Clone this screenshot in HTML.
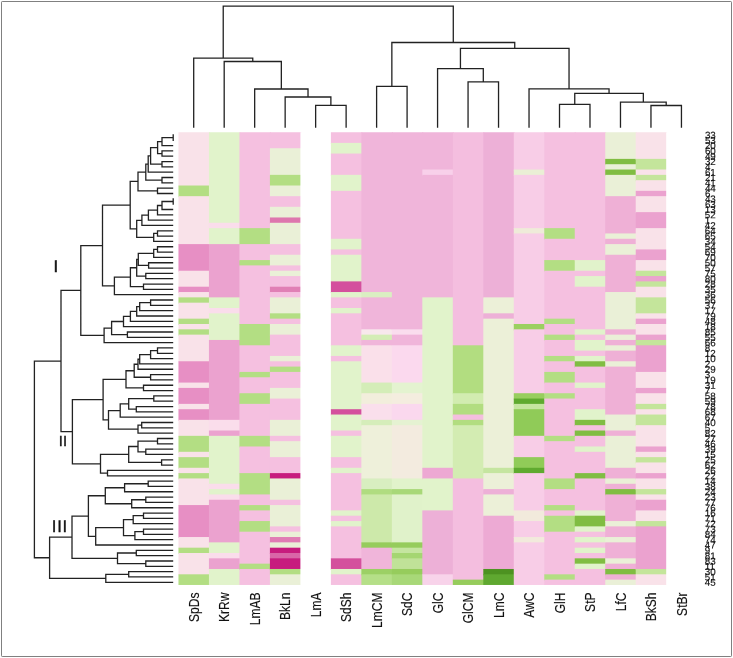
<!DOCTYPE html>
<html lang="en"><head><meta charset="utf-8"><title>Clustered heatmap</title>
<style>html,body{margin:0;padding:0;background:#fff}svg{display:block}text{-webkit-font-smoothing:antialiased}text{font-family:"Liberation Sans",sans-serif;fill:#111}</style></head><body><div style="will-change:transform;width:733px;height:658px">
<svg width="733" height="658" viewBox="0 0 733 658">
<rect x="0" y="0" width="733" height="658" fill="#fff"/>
<rect x="1.5" y="1.5" width="730" height="655" rx="0.7" fill="none" stroke="#808080" stroke-width="1"/>
<g><rect x="178.46" y="132.25" width="31.48" height="54.26" fill="#F9E2E9"/><rect x="178.46" y="185.51" width="31.48" height="11.65" fill="#B3DE83"/><rect x="178.46" y="196.16" width="31.48" height="48.93" fill="#F9E2E9"/><rect x="178.46" y="244.1" width="31.48" height="27.63" fill="#E78FC4"/><rect x="178.46" y="270.73" width="31.48" height="16.98" fill="#F9E2E9"/><rect x="178.46" y="286.7" width="31.48" height="6.33" fill="#E78FC4"/><rect x="178.46" y="292.03" width="31.48" height="6.33" fill="#F9E2E9"/><rect x="178.46" y="297.36" width="31.48" height="6.33" fill="#B3DE83"/><rect x="178.46" y="302.68" width="31.48" height="16.98" fill="#F9E2E9"/><rect x="178.46" y="318.66" width="31.48" height="6.33" fill="#B3DE83"/><rect x="178.46" y="323.99" width="31.48" height="6.33" fill="#F9E2E9"/><rect x="178.46" y="329.31" width="31.48" height="6.33" fill="#B3DE83"/><rect x="178.46" y="334.64" width="31.48" height="27.63" fill="#F9E2E9"/><rect x="178.46" y="361.27" width="31.48" height="22.3" fill="#E78FC4"/><rect x="178.46" y="382.57" width="31.48" height="6.33" fill="#F9E2E9"/><rect x="178.46" y="387.9" width="31.48" height="16.98" fill="#E78FC4"/><rect x="178.46" y="403.88" width="31.48" height="6.33" fill="#F9E2E9"/><rect x="178.46" y="409.2" width="31.48" height="11.65" fill="#E78FC4"/><rect x="178.46" y="419.85" width="31.48" height="16.98" fill="#F9E2E9"/><rect x="178.46" y="435.83" width="31.48" height="16.98" fill="#B3DE83"/><rect x="178.46" y="451.81" width="31.48" height="6.33" fill="#F9E2E9"/><rect x="178.46" y="457.14" width="31.48" height="11.65" fill="#B3DE83"/><rect x="178.46" y="467.79" width="31.48" height="6.33" fill="#F9E2E9"/><rect x="178.46" y="473.11" width="31.48" height="6.33" fill="#B3DE83"/><rect x="178.46" y="478.44" width="31.48" height="27.63" fill="#F9E2E9"/><rect x="178.46" y="505.07" width="31.48" height="32.96" fill="#E78FC4"/><rect x="178.46" y="537.03" width="31.48" height="11.65" fill="#F9E2E9"/><rect x="178.46" y="547.68" width="31.48" height="6.33" fill="#B3DE83"/><rect x="178.46" y="553" width="31.48" height="22.3" fill="#F9E2E9"/><rect x="178.46" y="574.31" width="31.48" height="10.65" fill="#B3DE83"/><rect x="208.94" y="132.25" width="31.48" height="91.54" fill="#E1F3CB"/><rect x="208.94" y="222.79" width="31.48" height="6.33" fill="#FADDEB"/><rect x="208.94" y="228.12" width="31.48" height="16.98" fill="#E1F3CB"/><rect x="208.94" y="244.1" width="31.48" height="54.26" fill="#EBA2CF"/><rect x="208.94" y="297.36" width="31.48" height="11.65" fill="#E1F3CB"/><rect x="208.94" y="308.01" width="31.48" height="6.33" fill="#FADDEB"/><rect x="208.94" y="313.33" width="31.48" height="27.63" fill="#E1F3CB"/><rect x="208.94" y="339.96" width="31.48" height="80.89" fill="#EBA2CF"/><rect x="208.94" y="419.85" width="31.48" height="11.65" fill="#FADDEB"/><rect x="208.94" y="430.51" width="31.48" height="6.33" fill="#EBA2CF"/><rect x="208.94" y="435.83" width="31.48" height="48.93" fill="#E1F3CB"/><rect x="208.94" y="483.77" width="31.48" height="6.33" fill="#FADDEB"/><rect x="208.94" y="489.09" width="31.48" height="6.33" fill="#E1F3CB"/><rect x="208.94" y="494.42" width="31.48" height="6.33" fill="#FADDEB"/><rect x="208.94" y="499.74" width="31.48" height="43.61" fill="#EBA2CF"/><rect x="208.94" y="542.35" width="31.48" height="11.65" fill="#E1F3CB"/><rect x="208.94" y="553" width="31.48" height="6.33" fill="#FADDEB"/><rect x="208.94" y="558.33" width="31.48" height="11.65" fill="#EBA2CF"/><rect x="208.94" y="568.98" width="31.48" height="15.98" fill="#E1F3CB"/><rect x="239.43" y="132.25" width="31.48" height="96.87" fill="#F5C0E0"/><rect x="239.43" y="228.12" width="31.48" height="16.98" fill="#B3DE83"/><rect x="239.43" y="244.1" width="31.48" height="16.98" fill="#F5C0E0"/><rect x="239.43" y="260.07" width="31.48" height="6.33" fill="#B3DE83"/><rect x="239.43" y="265.4" width="31.48" height="59.59" fill="#F5C0E0"/><rect x="239.43" y="323.99" width="31.48" height="22.3" fill="#B3DE83"/><rect x="239.43" y="345.29" width="31.48" height="27.63" fill="#F5C0E0"/><rect x="239.43" y="371.92" width="31.48" height="6.33" fill="#B3DE83"/><rect x="239.43" y="377.25" width="31.48" height="16.98" fill="#F5C0E0"/><rect x="239.43" y="393.22" width="31.48" height="11.65" fill="#B3DE83"/><rect x="239.43" y="403.88" width="31.48" height="32.96" fill="#F5C0E0"/><rect x="239.43" y="435.83" width="31.48" height="11.65" fill="#B3DE83"/><rect x="239.43" y="446.48" width="31.48" height="27.63" fill="#F5C0E0"/><rect x="239.43" y="473.11" width="31.48" height="22.3" fill="#B3DE83"/><rect x="239.43" y="494.42" width="31.48" height="11.65" fill="#F5C0E0"/><rect x="239.43" y="505.07" width="31.48" height="6.33" fill="#B3DE83"/><rect x="239.43" y="510.4" width="31.48" height="11.65" fill="#F5C0E0"/><rect x="239.43" y="521.05" width="31.48" height="11.65" fill="#B3DE83"/><rect x="239.43" y="531.7" width="31.48" height="32.96" fill="#F5C0E0"/><rect x="239.43" y="563.66" width="31.48" height="6.33" fill="#B3DE83"/><rect x="239.43" y="568.98" width="31.48" height="15.98" fill="#F5C0E0"/><rect x="269.91" y="132.25" width="31.48" height="16.98" fill="#F5C0E0"/><rect x="269.91" y="148.23" width="31.48" height="27.63" fill="#EAF0D7"/><rect x="269.91" y="174.86" width="31.48" height="11.65" fill="#B3DE83"/><rect x="269.91" y="185.51" width="31.48" height="11.65" fill="#EAF0D7"/><rect x="269.91" y="196.16" width="31.48" height="11.65" fill="#F5C0E0"/><rect x="269.91" y="206.81" width="31.48" height="11.65" fill="#EAF0D7"/><rect x="269.91" y="217.47" width="31.48" height="6.33" fill="#DE77AE"/><rect x="269.91" y="222.79" width="31.48" height="22.3" fill="#EAF0D7"/><rect x="269.91" y="244.1" width="31.48" height="11.65" fill="#F5C0E0"/><rect x="269.91" y="254.75" width="31.48" height="11.65" fill="#EAF0D7"/><rect x="269.91" y="265.4" width="31.48" height="6.33" fill="#F5C0E0"/><rect x="269.91" y="270.73" width="31.48" height="6.33" fill="#EAF0D7"/><rect x="269.91" y="276.05" width="31.48" height="11.65" fill="#F5C0E0"/><rect x="269.91" y="286.7" width="31.48" height="6.33" fill="#E080B5"/><rect x="269.91" y="292.03" width="31.48" height="6.33" fill="#F5C0E0"/><rect x="269.91" y="297.36" width="31.48" height="16.98" fill="#EAF0D7"/><rect x="269.91" y="313.33" width="31.48" height="6.33" fill="#B3DE83"/><rect x="269.91" y="318.66" width="31.48" height="6.33" fill="#F5C0E0"/><rect x="269.91" y="323.99" width="31.48" height="11.65" fill="#EAF0D7"/><rect x="269.91" y="334.64" width="31.48" height="22.3" fill="#F5C0E0"/><rect x="269.91" y="355.94" width="31.48" height="6.33" fill="#EAF0D7"/><rect x="269.91" y="361.27" width="31.48" height="6.33" fill="#F5C0E0"/><rect x="269.91" y="366.59" width="31.48" height="6.33" fill="#B3DE83"/><rect x="269.91" y="371.92" width="31.48" height="16.98" fill="#F5C0E0"/><rect x="269.91" y="387.9" width="31.48" height="11.65" fill="#EAF0D7"/><rect x="269.91" y="398.55" width="31.48" height="22.3" fill="#F5C0E0"/><rect x="269.91" y="419.85" width="31.48" height="16.98" fill="#EAF0D7"/><rect x="269.91" y="435.83" width="31.48" height="6.33" fill="#F5C0E0"/><rect x="269.91" y="441.16" width="31.48" height="16.98" fill="#EAF0D7"/><rect x="269.91" y="457.14" width="31.48" height="16.98" fill="#F5C0E0"/><rect x="269.91" y="473.11" width="31.48" height="6.33" fill="#C71C7E"/><rect x="269.91" y="478.44" width="31.48" height="22.3" fill="#EAF0D7"/><rect x="269.91" y="499.74" width="31.48" height="6.33" fill="#F5C0E0"/><rect x="269.91" y="505.07" width="31.48" height="22.3" fill="#EAF0D7"/><rect x="269.91" y="526.37" width="31.48" height="6.33" fill="#F5C0E0"/><rect x="269.91" y="531.7" width="31.48" height="6.33" fill="#EAF0D7"/><rect x="269.91" y="537.03" width="31.48" height="6.33" fill="#E07DB4"/><rect x="269.91" y="542.35" width="31.48" height="6.33" fill="#EAF0D7"/><rect x="269.91" y="547.68" width="31.48" height="6.33" fill="#C71C7E"/><rect x="269.91" y="553" width="31.48" height="6.33" fill="#D966A8"/><rect x="269.91" y="558.33" width="31.48" height="11.65" fill="#C71C7E"/><rect x="269.91" y="568.98" width="31.48" height="6.33" fill="#B3DE83"/><rect x="269.91" y="574.31" width="31.48" height="10.65" fill="#EAF0D7"/><rect x="300.4" y="132.25" width="31.48" height="452.71" fill="#FFFFFF"/><rect x="330.88" y="132.25" width="31.48" height="11.65" fill="#F5C0E0"/><rect x="330.88" y="142.9" width="31.48" height="11.65" fill="#E1F3CB"/><rect x="330.88" y="153.55" width="31.48" height="22.3" fill="#F5C0E0"/><rect x="330.88" y="174.86" width="31.48" height="16.98" fill="#E1F3CB"/><rect x="330.88" y="190.84" width="31.48" height="48.93" fill="#F5C0E0"/><rect x="330.88" y="238.77" width="31.48" height="11.65" fill="#E1F3CB"/><rect x="330.88" y="249.42" width="31.48" height="6.33" fill="#F5C0E0"/><rect x="330.88" y="254.75" width="31.48" height="27.63" fill="#E1F3CB"/><rect x="330.88" y="281.38" width="31.48" height="11.65" fill="#D4509D"/><rect x="330.88" y="292.03" width="31.48" height="6.33" fill="#E1F3CB"/><rect x="330.88" y="297.36" width="31.48" height="11.65" fill="#F5C0E0"/><rect x="330.88" y="308.01" width="31.48" height="6.33" fill="#E1F3CB"/><rect x="330.88" y="313.33" width="31.48" height="32.96" fill="#F5C0E0"/><rect x="330.88" y="345.29" width="31.48" height="11.65" fill="#E1F3CB"/><rect x="330.88" y="355.94" width="31.48" height="6.33" fill="#F5C0E0"/><rect x="330.88" y="361.27" width="31.48" height="48.93" fill="#E1F3CB"/><rect x="330.88" y="409.2" width="31.48" height="6.33" fill="#D4509D"/><rect x="330.88" y="414.53" width="31.48" height="16.98" fill="#E1F3CB"/><rect x="330.88" y="430.51" width="31.48" height="6.33" fill="#F5C0E0"/><rect x="330.88" y="435.83" width="31.48" height="22.3" fill="#E1F3CB"/><rect x="330.88" y="457.14" width="31.48" height="11.65" fill="#F5C0E0"/><rect x="330.88" y="467.79" width="31.48" height="6.33" fill="#E1F3CB"/><rect x="330.88" y="473.11" width="31.48" height="38.28" fill="#F5C0E0"/><rect x="330.88" y="510.4" width="31.48" height="6.33" fill="#E1F3CB"/><rect x="330.88" y="515.72" width="31.48" height="6.33" fill="#F5C0E0"/><rect x="330.88" y="521.05" width="31.48" height="6.33" fill="#E1F3CB"/><rect x="330.88" y="526.37" width="31.48" height="32.96" fill="#F5C0E0"/><rect x="330.88" y="558.33" width="31.48" height="11.65" fill="#D4509D"/><rect x="330.88" y="568.98" width="31.48" height="6.33" fill="#E1F3CB"/><rect x="330.88" y="574.31" width="31.48" height="10.65" fill="#F5C0E0"/><rect x="361.36" y="132.25" width="31.48" height="160.78" fill="#F0B5DA"/><rect x="361.36" y="292.03" width="31.48" height="6.33" fill="#DAEFC2"/><rect x="361.36" y="297.36" width="31.48" height="32.96" fill="#F0B5DA"/><rect x="361.36" y="329.31" width="31.48" height="6.33" fill="#F8E8EC"/><rect x="361.36" y="334.64" width="31.48" height="6.33" fill="#D4EDB5"/><rect x="361.36" y="339.96" width="31.48" height="6.33" fill="#F0B5DA"/><rect x="361.36" y="345.29" width="31.48" height="38.28" fill="#FAE0EA"/><rect x="361.36" y="382.57" width="31.48" height="11.65" fill="#D4EDB8"/><rect x="361.36" y="393.22" width="31.48" height="11.65" fill="#F2EEDC"/><rect x="361.36" y="403.88" width="31.48" height="16.98" fill="#FADFEC"/><rect x="361.36" y="419.85" width="31.48" height="6.33" fill="#D5EDBA"/><rect x="361.36" y="425.18" width="31.48" height="54.26" fill="#EEF0DA"/><rect x="361.36" y="478.44" width="31.48" height="11.65" fill="#D8EEC0"/><rect x="361.36" y="489.09" width="31.48" height="6.33" fill="#B0DC80"/><rect x="361.36" y="494.42" width="31.48" height="48.93" fill="#CDE9AA"/><rect x="361.36" y="542.35" width="31.48" height="6.33" fill="#96CC5C"/><rect x="361.36" y="547.68" width="31.48" height="22.3" fill="#F0B5DA"/><rect x="361.36" y="568.98" width="31.48" height="6.33" fill="#9CD065"/><rect x="361.36" y="574.31" width="31.48" height="10.65" fill="#B5DF88"/><rect x="391.85" y="132.25" width="31.48" height="198.06" fill="#F0B5DA"/><rect x="391.85" y="329.31" width="31.48" height="6.33" fill="#FADDEE"/><rect x="391.85" y="334.64" width="31.48" height="11.65" fill="#F0B5DA"/><rect x="391.85" y="345.29" width="31.48" height="38.28" fill="#FBD9EE"/><rect x="391.85" y="382.57" width="31.48" height="11.65" fill="#E4F3D0"/><rect x="391.85" y="393.22" width="31.48" height="11.65" fill="#F4EDDF"/><rect x="391.85" y="403.88" width="31.48" height="16.98" fill="#FAD8EE"/><rect x="391.85" y="419.85" width="31.48" height="6.33" fill="#E5F2D2"/><rect x="391.85" y="425.18" width="31.48" height="54.26" fill="#F3EBDF"/><rect x="391.85" y="478.44" width="31.48" height="11.65" fill="#E1F3CB"/><rect x="391.85" y="489.09" width="31.48" height="6.33" fill="#A8D878"/><rect x="391.85" y="494.42" width="31.48" height="48.93" fill="#E0F2CA"/><rect x="391.85" y="542.35" width="31.48" height="6.33" fill="#96CC5C"/><rect x="391.85" y="547.68" width="31.48" height="6.33" fill="#C5E5A0"/><rect x="391.85" y="553" width="31.48" height="6.33" fill="#A5D672"/><rect x="391.85" y="558.33" width="31.48" height="11.65" fill="#C0E298"/><rect x="391.85" y="568.98" width="31.48" height="6.33" fill="#96CC5C"/><rect x="391.85" y="574.31" width="31.48" height="10.65" fill="#A8D878"/><rect x="422.33" y="132.25" width="31.48" height="38.28" fill="#F0B5DA"/><rect x="422.33" y="169.53" width="31.48" height="6.33" fill="#F8D0EA"/><rect x="422.33" y="174.86" width="31.48" height="123.5" fill="#F0B5DA"/><rect x="422.33" y="297.36" width="31.48" height="171.43" fill="#E1F3CB"/><rect x="422.33" y="467.79" width="31.48" height="11.65" fill="#EDA8D3"/><rect x="422.33" y="478.44" width="31.48" height="32.96" fill="#E1F3CB"/><rect x="422.33" y="510.4" width="31.48" height="64.91" fill="#EDB0D7"/><rect x="422.33" y="574.31" width="31.48" height="10.65" fill="#F8D3EA"/><rect x="452.82" y="132.25" width="31.48" height="214.04" fill="#F4BEDF"/><rect x="452.82" y="345.29" width="31.48" height="48.93" fill="#B2DD80"/><rect x="452.82" y="393.22" width="31.48" height="11.65" fill="#D2ECB0"/><rect x="452.82" y="403.88" width="31.48" height="11.65" fill="#B2DD80"/><rect x="452.82" y="414.53" width="31.48" height="6.33" fill="#F4BEDF"/><rect x="452.82" y="419.85" width="31.48" height="6.33" fill="#B2DD80"/><rect x="452.82" y="425.18" width="31.48" height="54.26" fill="#D3ECB2"/><rect x="452.82" y="478.44" width="31.48" height="102.19" fill="#F4BEDF"/><rect x="452.82" y="579.63" width="31.48" height="5.33" fill="#96CC5C"/><rect x="483.3" y="132.25" width="31.48" height="166.11" fill="#EDB0D7"/><rect x="483.3" y="297.36" width="31.48" height="16.98" fill="#ECF0D8"/><rect x="483.3" y="313.33" width="31.48" height="6.33" fill="#EDB0D7"/><rect x="483.3" y="318.66" width="31.48" height="150.13" fill="#ECF0D8"/><rect x="483.3" y="467.79" width="31.48" height="6.33" fill="#C5E5A0"/><rect x="483.3" y="473.11" width="31.48" height="16.98" fill="#ECF0D8"/><rect x="483.3" y="489.09" width="31.48" height="6.33" fill="#EDB0D7"/><rect x="483.3" y="494.42" width="31.48" height="22.3" fill="#ECF0D8"/><rect x="483.3" y="515.72" width="31.48" height="54.26" fill="#EDAAD4"/><rect x="483.3" y="568.98" width="31.48" height="6.33" fill="#4D9221"/><rect x="483.3" y="574.31" width="31.48" height="10.65" fill="#5FA830"/><rect x="513.78" y="132.25" width="31.48" height="38.28" fill="#F8CDE7"/><rect x="513.78" y="169.53" width="31.48" height="6.33" fill="#EAEFD5"/><rect x="513.78" y="174.86" width="31.48" height="54.26" fill="#F8CDE7"/><rect x="513.78" y="228.12" width="31.48" height="6.33" fill="#EFEBD9"/><rect x="513.78" y="233.44" width="31.48" height="91.54" fill="#F8CDE7"/><rect x="513.78" y="323.99" width="31.48" height="6.33" fill="#9BD060"/><rect x="513.78" y="329.31" width="31.48" height="64.91" fill="#F8CDE7"/><rect x="513.78" y="393.22" width="31.48" height="6.33" fill="#98CE5E"/><rect x="513.78" y="398.55" width="31.48" height="6.33" fill="#5FAA2F"/><rect x="513.78" y="403.88" width="31.48" height="6.33" fill="#C5E5A0"/><rect x="513.78" y="409.2" width="31.48" height="27.63" fill="#90CB58"/><rect x="513.78" y="435.83" width="31.48" height="22.3" fill="#F8CDE7"/><rect x="513.78" y="457.14" width="31.48" height="11.65" fill="#90CB58"/><rect x="513.78" y="467.79" width="31.48" height="6.33" fill="#5FAA2F"/><rect x="513.78" y="473.11" width="31.48" height="38.28" fill="#F8CDE7"/><rect x="513.78" y="510.4" width="31.48" height="11.65" fill="#F2EADC"/><rect x="513.78" y="521.05" width="31.48" height="16.98" fill="#F8CDE7"/><rect x="513.78" y="537.03" width="31.48" height="6.33" fill="#F2EADC"/><rect x="513.78" y="542.35" width="31.48" height="42.61" fill="#F8CDE7"/><rect x="544.27" y="132.25" width="31.48" height="96.87" fill="#F5C0E0"/><rect x="544.27" y="228.12" width="31.48" height="11.65" fill="#B3DE83"/><rect x="544.27" y="238.77" width="31.48" height="22.3" fill="#F5C0E0"/><rect x="544.27" y="260.07" width="31.48" height="11.65" fill="#B3DE83"/><rect x="544.27" y="270.73" width="31.48" height="48.93" fill="#F5C0E0"/><rect x="544.27" y="318.66" width="31.48" height="6.33" fill="#B3DE83"/><rect x="544.27" y="323.99" width="31.48" height="11.65" fill="#F5C0E0"/><rect x="544.27" y="334.64" width="31.48" height="6.33" fill="#B3DE83"/><rect x="544.27" y="339.96" width="31.48" height="16.98" fill="#F5C0E0"/><rect x="544.27" y="355.94" width="31.48" height="6.33" fill="#B3DE83"/><rect x="544.27" y="361.27" width="31.48" height="11.65" fill="#F5C0E0"/><rect x="544.27" y="371.92" width="31.48" height="11.65" fill="#B3DE83"/><rect x="544.27" y="382.57" width="31.48" height="11.65" fill="#F5C0E0"/><rect x="544.27" y="393.22" width="31.48" height="6.33" fill="#B3DE83"/><rect x="544.27" y="398.55" width="31.48" height="38.28" fill="#F5C0E0"/><rect x="544.27" y="435.83" width="31.48" height="6.33" fill="#B3DE83"/><rect x="544.27" y="441.16" width="31.48" height="38.28" fill="#F5C0E0"/><rect x="544.27" y="478.44" width="31.48" height="11.65" fill="#B3DE83"/><rect x="544.27" y="489.09" width="31.48" height="16.98" fill="#F5C0E0"/><rect x="544.27" y="505.07" width="31.48" height="6.33" fill="#B3DE83"/><rect x="544.27" y="510.4" width="31.48" height="6.33" fill="#F5C0E0"/><rect x="544.27" y="515.72" width="31.48" height="16.98" fill="#B3DE83"/><rect x="544.27" y="531.7" width="31.48" height="43.61" fill="#F5C0E0"/><rect x="544.27" y="574.31" width="31.48" height="6.33" fill="#B3DE83"/><rect x="544.27" y="579.63" width="31.48" height="5.33" fill="#F5C0E0"/><rect x="574.75" y="132.25" width="31.48" height="128.82" fill="#F5C0E0"/><rect x="574.75" y="260.07" width="31.48" height="11.65" fill="#E1F3CB"/><rect x="574.75" y="270.73" width="31.48" height="6.33" fill="#F5C0E0"/><rect x="574.75" y="276.05" width="31.48" height="11.65" fill="#E1F3CB"/><rect x="574.75" y="286.7" width="31.48" height="43.61" fill="#F5C0E0"/><rect x="574.75" y="329.31" width="31.48" height="6.33" fill="#E1F3CB"/><rect x="574.75" y="334.64" width="31.48" height="6.33" fill="#F5C0E0"/><rect x="574.75" y="339.96" width="31.48" height="11.65" fill="#E1F3CB"/><rect x="574.75" y="350.62" width="31.48" height="6.33" fill="#F5C0E0"/><rect x="574.75" y="355.94" width="31.48" height="6.33" fill="#E1F3CB"/><rect x="574.75" y="361.27" width="31.48" height="6.33" fill="#80BD42"/><rect x="574.75" y="366.59" width="31.48" height="16.98" fill="#F5C0E0"/><rect x="574.75" y="382.57" width="31.48" height="6.33" fill="#E1F3CB"/><rect x="574.75" y="387.9" width="31.48" height="22.3" fill="#F5C0E0"/><rect x="574.75" y="409.2" width="31.48" height="11.65" fill="#E1F3CB"/><rect x="574.75" y="419.85" width="31.48" height="6.33" fill="#80BD42"/><rect x="574.75" y="425.18" width="31.48" height="6.33" fill="#F5C0E0"/><rect x="574.75" y="430.51" width="31.48" height="6.33" fill="#80BD42"/><rect x="574.75" y="435.83" width="31.48" height="11.65" fill="#F5C0E0"/><rect x="574.75" y="446.48" width="31.48" height="6.33" fill="#E1F3CB"/><rect x="574.75" y="451.81" width="31.48" height="22.3" fill="#F5C0E0"/><rect x="574.75" y="473.11" width="31.48" height="6.33" fill="#80BD42"/><rect x="574.75" y="478.44" width="31.48" height="32.96" fill="#F5C0E0"/><rect x="574.75" y="510.4" width="31.48" height="6.33" fill="#E1F3CB"/><rect x="574.75" y="515.72" width="31.48" height="11.65" fill="#80BD42"/><rect x="574.75" y="526.37" width="31.48" height="6.33" fill="#E1F3CB"/><rect x="574.75" y="531.7" width="31.48" height="6.33" fill="#F5C0E0"/><rect x="574.75" y="537.03" width="31.48" height="6.33" fill="#E1F3CB"/><rect x="574.75" y="542.35" width="31.48" height="6.33" fill="#F5C0E0"/><rect x="574.75" y="547.68" width="31.48" height="6.33" fill="#E1F3CB"/><rect x="574.75" y="553" width="31.48" height="6.33" fill="#F5C0E0"/><rect x="574.75" y="558.33" width="31.48" height="6.33" fill="#80BD42"/><rect x="574.75" y="563.66" width="31.48" height="6.33" fill="#E1F3CB"/><rect x="574.75" y="568.98" width="31.48" height="15.98" fill="#F5C0E0"/><rect x="605.24" y="132.25" width="31.48" height="27.63" fill="#EAF0D7"/><rect x="605.24" y="158.88" width="31.48" height="6.33" fill="#80BD42"/><rect x="605.24" y="164.21" width="31.48" height="6.33" fill="#EAF0D7"/><rect x="605.24" y="169.53" width="31.48" height="6.33" fill="#80BD42"/><rect x="605.24" y="174.86" width="31.48" height="22.3" fill="#EAF0D7"/><rect x="605.24" y="196.16" width="31.48" height="38.28" fill="#EFB0D6"/><rect x="605.24" y="233.44" width="31.48" height="6.33" fill="#EAF0D7"/><rect x="605.24" y="238.77" width="31.48" height="6.33" fill="#EFB0D6"/><rect x="605.24" y="244.1" width="31.48" height="11.65" fill="#EAF0D7"/><rect x="605.24" y="254.75" width="31.48" height="38.28" fill="#EFB0D6"/><rect x="605.24" y="292.03" width="31.48" height="38.28" fill="#EAF0D7"/><rect x="605.24" y="329.31" width="31.48" height="6.33" fill="#EFB0D6"/><rect x="605.24" y="334.64" width="31.48" height="6.33" fill="#EAF0D7"/><rect x="605.24" y="339.96" width="31.48" height="6.33" fill="#EFB0D6"/><rect x="605.24" y="345.29" width="31.48" height="6.33" fill="#EAF0D7"/><rect x="605.24" y="350.62" width="31.48" height="11.65" fill="#EFB0D6"/><rect x="605.24" y="361.27" width="31.48" height="6.33" fill="#EAF0D7"/><rect x="605.24" y="366.59" width="31.48" height="48.93" fill="#EFB0D6"/><rect x="605.24" y="414.53" width="31.48" height="16.98" fill="#EAF0D7"/><rect x="605.24" y="430.51" width="31.48" height="6.33" fill="#EFB0D6"/><rect x="605.24" y="435.83" width="31.48" height="32.96" fill="#EAF0D7"/><rect x="605.24" y="467.79" width="31.48" height="11.65" fill="#EFB0D6"/><rect x="605.24" y="478.44" width="31.48" height="6.33" fill="#EAF0D7"/><rect x="605.24" y="483.77" width="31.48" height="6.33" fill="#EFB0D6"/><rect x="605.24" y="489.09" width="31.48" height="6.33" fill="#80BD42"/><rect x="605.24" y="494.42" width="31.48" height="27.63" fill="#EFB0D6"/><rect x="605.24" y="521.05" width="31.48" height="6.33" fill="#EAF0D7"/><rect x="605.24" y="526.37" width="31.48" height="11.65" fill="#EFB0D6"/><rect x="605.24" y="537.03" width="31.48" height="6.33" fill="#EAF0D7"/><rect x="605.24" y="542.35" width="31.48" height="16.98" fill="#EFB0D6"/><rect x="605.24" y="558.33" width="31.48" height="6.33" fill="#EAF0D7"/><rect x="605.24" y="563.66" width="31.48" height="6.33" fill="#EFB0D6"/><rect x="605.24" y="568.98" width="31.48" height="6.33" fill="#80BD42"/><rect x="605.24" y="574.31" width="31.48" height="6.33" fill="#EFB0D6"/><rect x="605.24" y="579.63" width="31.48" height="5.33" fill="#EAF0D7"/><rect x="635.72" y="132.25" width="31.48" height="27.63" fill="#F9E2E9"/><rect x="635.72" y="158.88" width="31.48" height="11.65" fill="#C4E59B"/><rect x="635.72" y="169.53" width="31.48" height="6.33" fill="#F9E2E9"/><rect x="635.72" y="174.86" width="31.48" height="6.33" fill="#C4E59B"/><rect x="635.72" y="180.18" width="31.48" height="11.65" fill="#F9E2E9"/><rect x="635.72" y="190.84" width="31.48" height="6.33" fill="#EBA2CF"/><rect x="635.72" y="196.16" width="31.48" height="16.98" fill="#F9E2E9"/><rect x="635.72" y="212.14" width="31.48" height="16.98" fill="#EBA2CF"/><rect x="635.72" y="228.12" width="31.48" height="22.3" fill="#F9E2E9"/><rect x="635.72" y="249.42" width="31.48" height="11.65" fill="#EBA2CF"/><rect x="635.72" y="260.07" width="31.48" height="11.65" fill="#F9E2E9"/><rect x="635.72" y="270.73" width="31.48" height="6.33" fill="#C4E59B"/><rect x="635.72" y="276.05" width="31.48" height="6.33" fill="#EBA2CF"/><rect x="635.72" y="281.38" width="31.48" height="6.33" fill="#C4E59B"/><rect x="635.72" y="286.7" width="31.48" height="11.65" fill="#F9E2E9"/><rect x="635.72" y="297.36" width="31.48" height="16.98" fill="#C4E59B"/><rect x="635.72" y="313.33" width="31.48" height="6.33" fill="#F9E2E9"/><rect x="635.72" y="318.66" width="31.48" height="6.33" fill="#EBA2CF"/><rect x="635.72" y="323.99" width="31.48" height="11.65" fill="#F9E2E9"/><rect x="635.72" y="334.64" width="31.48" height="6.33" fill="#EBA2CF"/><rect x="635.72" y="339.96" width="31.48" height="6.33" fill="#C4E59B"/><rect x="635.72" y="345.29" width="31.48" height="27.63" fill="#EBA2CF"/><rect x="635.72" y="371.92" width="31.48" height="16.98" fill="#F9E2E9"/><rect x="635.72" y="387.9" width="31.48" height="6.33" fill="#EBA2CF"/><rect x="635.72" y="393.22" width="31.48" height="11.65" fill="#F9E2E9"/><rect x="635.72" y="403.88" width="31.48" height="6.33" fill="#C4E59B"/><rect x="635.72" y="409.2" width="31.48" height="6.33" fill="#F9E2E9"/><rect x="635.72" y="414.53" width="31.48" height="11.65" fill="#C4E59B"/><rect x="635.72" y="425.18" width="31.48" height="22.3" fill="#F9E2E9"/><rect x="635.72" y="446.48" width="31.48" height="6.33" fill="#EBA2CF"/><rect x="635.72" y="451.81" width="31.48" height="6.33" fill="#F9E2E9"/><rect x="635.72" y="457.14" width="31.48" height="6.33" fill="#C4E59B"/><rect x="635.72" y="462.46" width="31.48" height="11.65" fill="#F9E2E9"/><rect x="635.72" y="473.11" width="31.48" height="6.33" fill="#EBA2CF"/><rect x="635.72" y="478.44" width="31.48" height="11.65" fill="#F9E2E9"/><rect x="635.72" y="489.09" width="31.48" height="6.33" fill="#C4E59B"/><rect x="635.72" y="494.42" width="31.48" height="6.33" fill="#F9E2E9"/><rect x="635.72" y="499.74" width="31.48" height="11.65" fill="#EBA2CF"/><rect x="635.72" y="510.4" width="31.48" height="11.65" fill="#F9E2E9"/><rect x="635.72" y="521.05" width="31.48" height="6.33" fill="#C4E59B"/><rect x="635.72" y="526.37" width="31.48" height="43.61" fill="#EBA2CF"/><rect x="635.72" y="568.98" width="31.48" height="6.33" fill="#C4E59B"/><rect x="635.72" y="574.31" width="31.48" height="10.65" fill="#F9E2E9"/><rect x="666.2" y="132.25" width="30.48" height="452.71" fill="#FFFFFF"/></g>
<path d="M173.2 134.26V140.89M173.2 137.58H162V145.56H173.2M173.2 150.89H162V156.22H173.2M162 141.57H157.6V153.55H162M173.2 161.54H162V166.87H173.2M157.6 147.56H150.6V164.21H162M150.6 155.88H148.2V172.19H173.2M173.2 177.52H162V182.85H173.2M148.2 164.04H145.8V180.18H162M173.2 188.17H157.5V193.5H173.2M145.8 172.11H138V190.84H157.5M173.2 198.17V204.8M173.2 201.49H162V209.48H173.2M162 205.48H157.5V214.8H173.2M157.5 210.14H148.4V220.13H173.2M148.4 215.14H141.9V225.45H173.2M173.2 230.78H157.5V236.11H173.2M157.5 233.44H153.7V241.43H173.2M141.9 220.3H136.7V237.44H153.7M138 181.47H130.2V228.87H136.7M173.2 246.76H157.5V252.08H173.2M157.5 249.42H153.7V257.41H173.2M173.2 262.74H148.6V268.06H173.2M153.7 253.42H138.3V265.4H148.6M173.2 273.39H145.8V278.72H173.2M138.3 259.41H136.7V276.05H145.8M173.2 284.04H143.5V289.37H173.2M136.7 267.73H130.4V286.7H143.5M130.4 277.22H114.4V294.69H173.2M130.2 205.17H102.5V285.96H114.4M173.2 300.02H150.6V305.35H173.2M150.6 302.68H139.7V310.67H173.2M139.7 306.68H136.7V316H173.2M136.7 311.34H130.4V321.32H173.2M130.4 316.33H123.5V326.65H173.2M173.2 331.98H127.4V337.3H173.2M123.5 321.49H111.6V334.64H127.4M111.6 328.06H104.1V342.63H173.2M102.5 245.56H80.8V335.35H104.1M173.2 347.95H157.5V353.28H173.2M157.5 350.62H150.6V358.61H173.2M150.6 354.61H139.7V363.93H173.2M139.7 359.27H138V369.26H173.2M173.2 374.58H150.6V379.91H173.2M138 364.26H134.2V377.25H150.6M173.2 385.24H143.5V390.56H173.2M134.2 370.75H126V387.9H143.5M173.2 395.89H153.8V401.21H173.2M173.2 406.54H136.3V411.86H173.2M153.8 398.55H128.7V409.2H136.3M128.7 403.88H120.2V417.19H173.2M173.2 422.52H141.7V427.84H173.2M141.7 425.18H138V433.17H173.2M120.2 410.53H108.5V429.17H138M126 379.33H103.1V419.85H108.5M173.2 438.5H157.5V443.82H173.2M173.2 449.15H145.8V454.47H173.2M157.5 441.16H138V451.81H145.8M173.2 459.8H161.6V465.12H173.2M138 446.48H128.7V462.46H161.6M173.2 470.45H107.5V475.78H173.2M128.7 454.47H100.5V473.11H107.5M103.1 399.59H72.4V463.79H100.5M80.8 290.45H61V431.69H72.4M173.2 481.1H148.2V486.43H173.2M148.2 483.77H124.6V491.75H173.2M173.2 497.08H145.8V502.41H173.2M145.8 499.74H131.7V507.73H173.2M124.6 487.76H105.3V503.74H131.7M173.2 513.06H143.5V518.38H173.2M143.5 515.72H133.2V523.71H173.2M173.2 529.04H143.5V534.36H173.2M143.5 531.7H134.9V539.69H173.2M133.2 519.72H123.5V535.69H134.9M123.5 527.71H95.7V545.01H173.2M105.3 495.75H88.4V536.36H95.7M173.2 550.34H136.3V555.67H173.2M173.2 560.99H145.8V566.32H173.2M136.3 553H117.5V563.66H145.8M88.4 516.05H72V558.33H117.5M173.2 571.64H128.7V576.97H173.2M128.7 574.31H105.8V582.3H173.2M72 537.19H49.6V578.3H105.8M61 361.07H34.4V557.75H49.6M315.64 127.7V105.4H346.12V127.7M285.15 127.7V97H330.88V105.4M254.67 127.7V89H308.02V97M224.19 127.7V61.5H281.34V89M193.7 127.7V58.1H252.76V61.5M376.61 127.7V86.4H407.09V127.7M468.06 127.7V81.8H498.54V127.7M437.57 127.7V68.6H483.3V81.8M559.51 127.7V104.4H589.99V127.7M650.96 127.7V105.5H681.45V127.7M620.48 127.7V102.1H666.2V105.5M574.75 104.4V93.3H643.34V102.1M529.03 127.7V88.9H609.05V93.3M460.44 68.6V48.3H569.04V88.9M391.85 86.4V42.5H514.74V48.3M223.23 58.1V6.2H453.29V42.5" fill="none" stroke="#222" stroke-width="1.3" stroke-linecap="butt" stroke-linejoin="miter"/>
<g font-size="14" stroke="#111" stroke-width="0.15">
<text transform="translate(198.8,592.5) rotate(-90) scale(0.86,1)" text-anchor="end">SpDs</text>
<text transform="translate(229.29,592.5) rotate(-90) scale(0.86,1)" text-anchor="end">KrRw</text>
<text transform="translate(259.77,592.5) rotate(-90) scale(0.86,1)" text-anchor="end">LmAB</text>
<text transform="translate(290.25,592.5) rotate(-90) scale(0.86,1)" text-anchor="end">BkLn</text>
<text transform="translate(320.74,592.5) rotate(-90) scale(0.86,1)" text-anchor="end">LmA</text>
<text transform="translate(351.22,592.5) rotate(-90) scale(0.86,1)" text-anchor="end">SdSh</text>
<text transform="translate(381.71,592.5) rotate(-90) scale(0.86,1)" text-anchor="end">LmCM</text>
<text transform="translate(412.19,592.5) rotate(-90) scale(0.86,1)" text-anchor="end">SdC</text>
<text transform="translate(442.67,592.5) rotate(-90) scale(0.86,1)" text-anchor="end">GlC</text>
<text transform="translate(473.16,592.5) rotate(-90) scale(0.86,1)" text-anchor="end">GlCM</text>
<text transform="translate(503.64,592.5) rotate(-90) scale(0.86,1)" text-anchor="end">LmC</text>
<text transform="translate(534.13,592.5) rotate(-90) scale(0.86,1)" text-anchor="end">AwC</text>
<text transform="translate(564.61,592.5) rotate(-90) scale(0.86,1)" text-anchor="end">GlH</text>
<text transform="translate(595.09,592.5) rotate(-90) scale(0.86,1)" text-anchor="end">StP</text>
<text transform="translate(625.58,592.5) rotate(-90) scale(0.86,1)" text-anchor="end">LfC</text>
<text transform="translate(656.06,592.5) rotate(-90) scale(0.86,1)" text-anchor="end">BkSh</text>
<text transform="translate(686.55,592.5) rotate(-90) scale(0.86,1)" text-anchor="end">StBr</text>
</g>
<g font-size="9.8" stroke="#111" stroke-width="0.15" transform="rotate(0.03 710 358)">
<text x="704.8" y="138.41">33</text>
<text x="704.8" y="143.74">53</text>
<text x="704.8" y="149.06">20</text>
<text x="704.8" y="154.39">60</text>
<text x="704.8" y="159.72">49</text>
<text x="704.8" y="165.04">32</text>
<text x="704.8" y="170.37">4</text>
<text x="704.8" y="175.69">61</text>
<text x="704.8" y="181.02">21</text>
<text x="704.8" y="186.35">41</text>
<text x="704.8" y="191.67">44</text>
<text x="704.8" y="197">6</text>
<text x="704.8" y="202.32">43</text>
<text x="704.8" y="207.65">63</text>
<text x="704.8" y="212.98">13</text>
<text x="704.8" y="218.3">52</text>
<text x="704.8" y="223.63">1</text>
<text x="704.8" y="228.95">42</text>
<text x="704.8" y="234.28">64</text>
<text x="704.8" y="239.61">65</text>
<text x="704.8" y="244.93">34</text>
<text x="704.8" y="250.26">54</text>
<text x="704.8" y="255.58">69</text>
<text x="704.8" y="260.91">70</text>
<text x="704.8" y="266.24">50</text>
<text x="704.8" y="271.56">57</text>
<text x="704.8" y="276.89">75</text>
<text x="704.8" y="282.22">80</text>
<text x="704.8" y="287.54">28</text>
<text x="704.8" y="292.87">35</text>
<text x="704.8" y="298.19">36</text>
<text x="704.8" y="303.52">56</text>
<text x="704.8" y="308.85">37</text>
<text x="704.8" y="314.17">17</text>
<text x="704.8" y="319.5">79</text>
<text x="704.8" y="324.82">48</text>
<text x="704.8" y="330.15">18</text>
<text x="704.8" y="335.48">85</text>
<text x="704.8" y="340.8">55</text>
<text x="704.8" y="346.13">66</text>
<text x="704.8" y="351.45">8</text>
<text x="704.8" y="356.78">12</text>
<text x="704.8" y="362.11">10</text>
<text x="704.8" y="367.43">2</text>
<text x="704.8" y="372.76">29</text>
<text x="704.8" y="378.08">3</text>
<text x="704.8" y="383.41">19</text>
<text x="704.8" y="388.74">31</text>
<text x="704.8" y="394.06">7</text>
<text x="704.8" y="399.39">58</text>
<text x="704.8" y="404.71">59</text>
<text x="704.8" y="410.04">78</text>
<text x="704.8" y="415.36">68</text>
<text x="704.8" y="420.69">67</text>
<text x="704.8" y="426.02">40</text>
<text x="704.8" y="431.34">5</text>
<text x="704.8" y="436.67">82</text>
<text x="704.8" y="442">27</text>
<text x="704.8" y="447.32">46</text>
<text x="704.8" y="452.65">39</text>
<text x="704.8" y="457.97">15</text>
<text x="704.8" y="463.3">25</text>
<text x="704.8" y="468.62">62</text>
<text x="704.8" y="473.95">26</text>
<text x="704.8" y="479.28">22</text>
<text x="704.8" y="484.6">14</text>
<text x="704.8" y="489.93">38</text>
<text x="704.8" y="495.25">24</text>
<text x="704.8" y="500.58">23</text>
<text x="704.8" y="505.91">77</text>
<text x="704.8" y="511.23">76</text>
<text x="704.8" y="516.56">16</text>
<text x="704.8" y="521.88">71</text>
<text x="704.8" y="527.21">72</text>
<text x="704.8" y="532.54">73</text>
<text x="704.8" y="537.86">84</text>
<text x="704.8" y="543.19">74</text>
<text x="704.8" y="548.51">47</text>
<text x="704.8" y="553.84">9</text>
<text x="704.8" y="559.17">81</text>
<text x="704.8" y="564.49">83</text>
<text x="704.8" y="569.82">11</text>
<text x="704.8" y="575.14">30</text>
<text x="704.8" y="580.47">51</text>
<text x="704.8" y="585.8">45</text>
</g>
<text x="53.4" y="271.9" font-size="16.8" text-rendering="geometricPrecision" stroke="#111" stroke-width="0.5">I</text>
<text x="58.7" y="445.5" font-size="14.7" text-rendering="geometricPrecision" letter-spacing="0.3" stroke="#111" stroke-width="0.35">II</text>
<text x="51.8" y="531.8" font-size="16.8" text-rendering="geometricPrecision" letter-spacing="0.73" stroke="#111" stroke-width="0.35">III</text>
</svg></div></body></html>
